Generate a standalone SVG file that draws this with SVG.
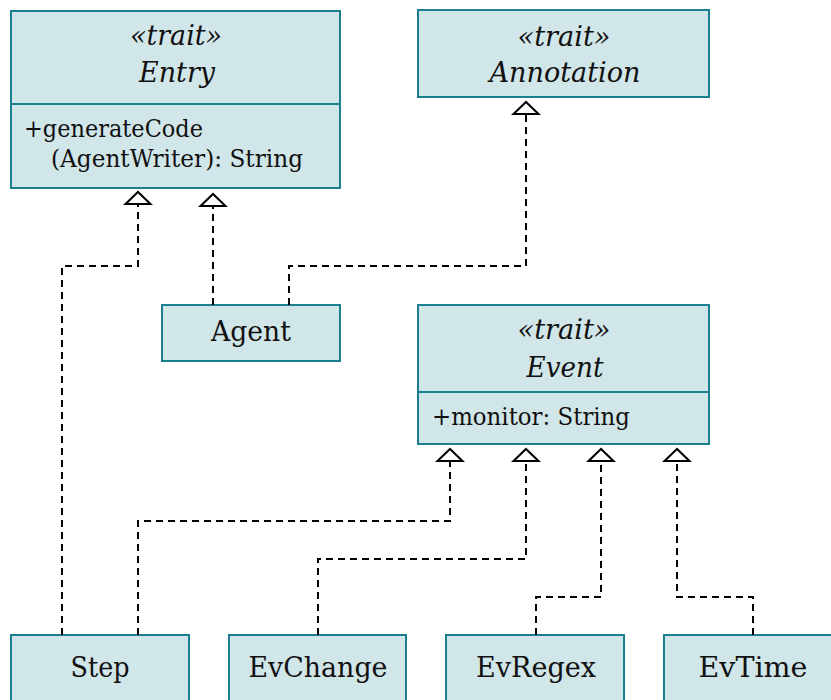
<svg xmlns="http://www.w3.org/2000/svg" width="831" height="700" viewBox="0 0 831 700">
<style>
.box{fill:#d1e6e9;stroke:#1b7f8f;stroke-width:2}
.div{stroke:#1b7f8f;stroke-width:2}
.t{font-family:'DejaVu Serif','Liberation Serif',serif;fill:#111;font-size:27px}
.i{font-style:italic}
.a{font-size:23.5px}
.c{text-anchor:middle}
.con{fill:none;stroke:#000;stroke-width:2;stroke-dasharray:7 5}
</style>
<defs>
<marker id="tri" markerUnits="userSpaceOnUse" viewBox="-2 -15 16 30" refX="0" refY="0" markerWidth="16" markerHeight="30" orient="auto">
<path d="M0,-12.5 L12,0 L0,12.5 Z" fill="#fff" stroke="#000" stroke-width="2" stroke-linejoin="miter"/>
</marker>
</defs>
<g id="Entry">
<rect class="box" x="11" y="11" width="329" height="177"/>
<line class="div" x1="11" y1="104" x2="340" y2="104"/>
<text class="t i c" x="176" y="45" textLength="92" lengthAdjust="spacingAndGlyphs">«trait»</text>
<text class="t i c" x="177" y="82" textLength="76" lengthAdjust="spacingAndGlyphs">Entry</text>
<text class="t a" x="24" y="137" textLength="179" lengthAdjust="spacingAndGlyphs">+generateCode</text>
<text class="t a" x="51" y="167" textLength="252" lengthAdjust="spacingAndGlyphs">(AgentWriter): String</text>
</g>
<g id="Annotation">
<rect class="box" x="418" y="10" width="291" height="87"/>
<text class="t i c" x="564" y="46" textLength="93" lengthAdjust="spacingAndGlyphs">«trait»</text>
<text class="t i c" x="565" y="82" textLength="151" lengthAdjust="spacingAndGlyphs">Annotation</text>
</g>
<g id="Agent">
<rect class="box" x="162" y="305" width="178" height="56"/>
<text class="t c" x="251" y="341" textLength="80" lengthAdjust="spacingAndGlyphs">Agent</text>
</g>
<g id="Event">
<rect class="box" x="418" y="305" width="291" height="139"/>
<line class="div" x1="418" y1="392" x2="709" y2="392"/>
<text class="t i c" x="564" y="339" textLength="93" lengthAdjust="spacingAndGlyphs">«trait»</text>
<text class="t i c" x="565" y="377" textLength="77" lengthAdjust="spacingAndGlyphs">Event</text>
<text class="t a" x="432" y="425" textLength="198" lengthAdjust="spacingAndGlyphs">+monitor: String</text>
</g>
<g id="Step">
<rect class="box" x="11" y="635" width="178" height="80"/>
<text class="t c" x="100" y="677" textLength="59" lengthAdjust="spacingAndGlyphs">Step</text>
</g>
<g id="EvChange">
<rect class="box" x="229" y="635" width="177" height="80"/>
<text class="t c" x="318" y="677" textLength="139" lengthAdjust="spacingAndGlyphs">EvChange</text>
</g>
<g id="EvRegex">
<rect class="box" x="446" y="635" width="178" height="80"/>
<text class="t c" x="536" y="677" textLength="120" lengthAdjust="spacingAndGlyphs">EvRegex</text>
</g>
<g id="EvTime">
<rect class="box" x="664" y="635" width="178" height="80"/>
<text class="t c" x="753" y="677" textLength="109" lengthAdjust="spacingAndGlyphs">EvTime</text>
</g>
<g id="connectors">
<path class="con" d="M62 635 V266 H138 V204" marker-end="url(#tri)"/>
<path class="con" d="M213 305 V206" marker-end="url(#tri)"/>
<path class="con" d="M289 305 V266 H526 V114" marker-end="url(#tri)"/>
<path class="con" d="M138 635 V521 H450 V461" marker-end="url(#tri)"/>
<path class="con" d="M318 635 V559 H526 V461" marker-end="url(#tri)"/>
<path class="con" d="M536 635 V597 H601 V461" marker-end="url(#tri)"/>
<path class="con" d="M753 635 V597 H677 V461" marker-end="url(#tri)"/>
</g>
</svg>
